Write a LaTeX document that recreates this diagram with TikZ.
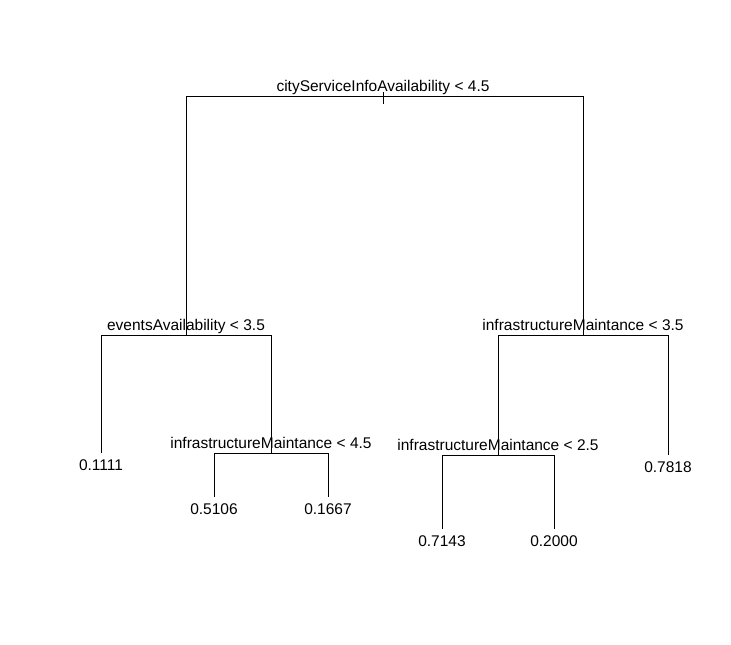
\documentclass[tikz,border=0pt]{standalone}
\usepackage{fontspec}
\setmainfont{Liberation Sans}
\usepackage{tikz}

\begin{document}
\begin{tikzpicture}[x=1pt,y=-1pt,line width=1pt,font=\fontsize{15.5}{18}\selectfont,
  split/.style={anchor=base,inner sep=0pt},
  leaf/.style={anchor=north,inner sep=0pt}]
\useasboundingbox (0,0) rectangle (731,645);
% split points
\coordinate (n1) at (383,96);
\coordinate (n2) at (186,335);
\coordinate (n3) at (583,335);
\coordinate (n5) at (271,453);
\coordinate (n6) at (498,455);
% leaves
\coordinate (n4) at (101,453);
\coordinate (n10) at (214,497);
\coordinate (n11) at (328,497);
\coordinate (n12) at (442,529);
\coordinate (n13) at (554,529);
\coordinate (n7) at (668,455);
\foreach \p/\c in {n1/n2,n1/n3,n2/n4,n2/n5,n3/n6,n3/n7,n5/n10,n5/n11,n6/n12,n6/n13}
  \draw (\p) -| (\c);
\draw (n1) ++(0,-4) -- ++(0,12);
\foreach \n/\label in {n1/cityServiceInfoAvailability < 4.5,n2/eventsAvailability < 3.5,n3/infrastructureMaintance < 3.5,n5/infrastructureMaintance < 4.5,n6/infrastructureMaintance < 2.5}
  \node [split] (lab\n) at ([yshift=5pt]\n) {\label};
\foreach \n/\label in {n4/0.1111,n10/0.5106,n11/0.1667,n12/0.7143,n13/0.2000,n7/0.7818}
  \node [leaf] (lab\n) at ([yshift=-6pt]\n) {\label};
\end{tikzpicture}
\end{document}
